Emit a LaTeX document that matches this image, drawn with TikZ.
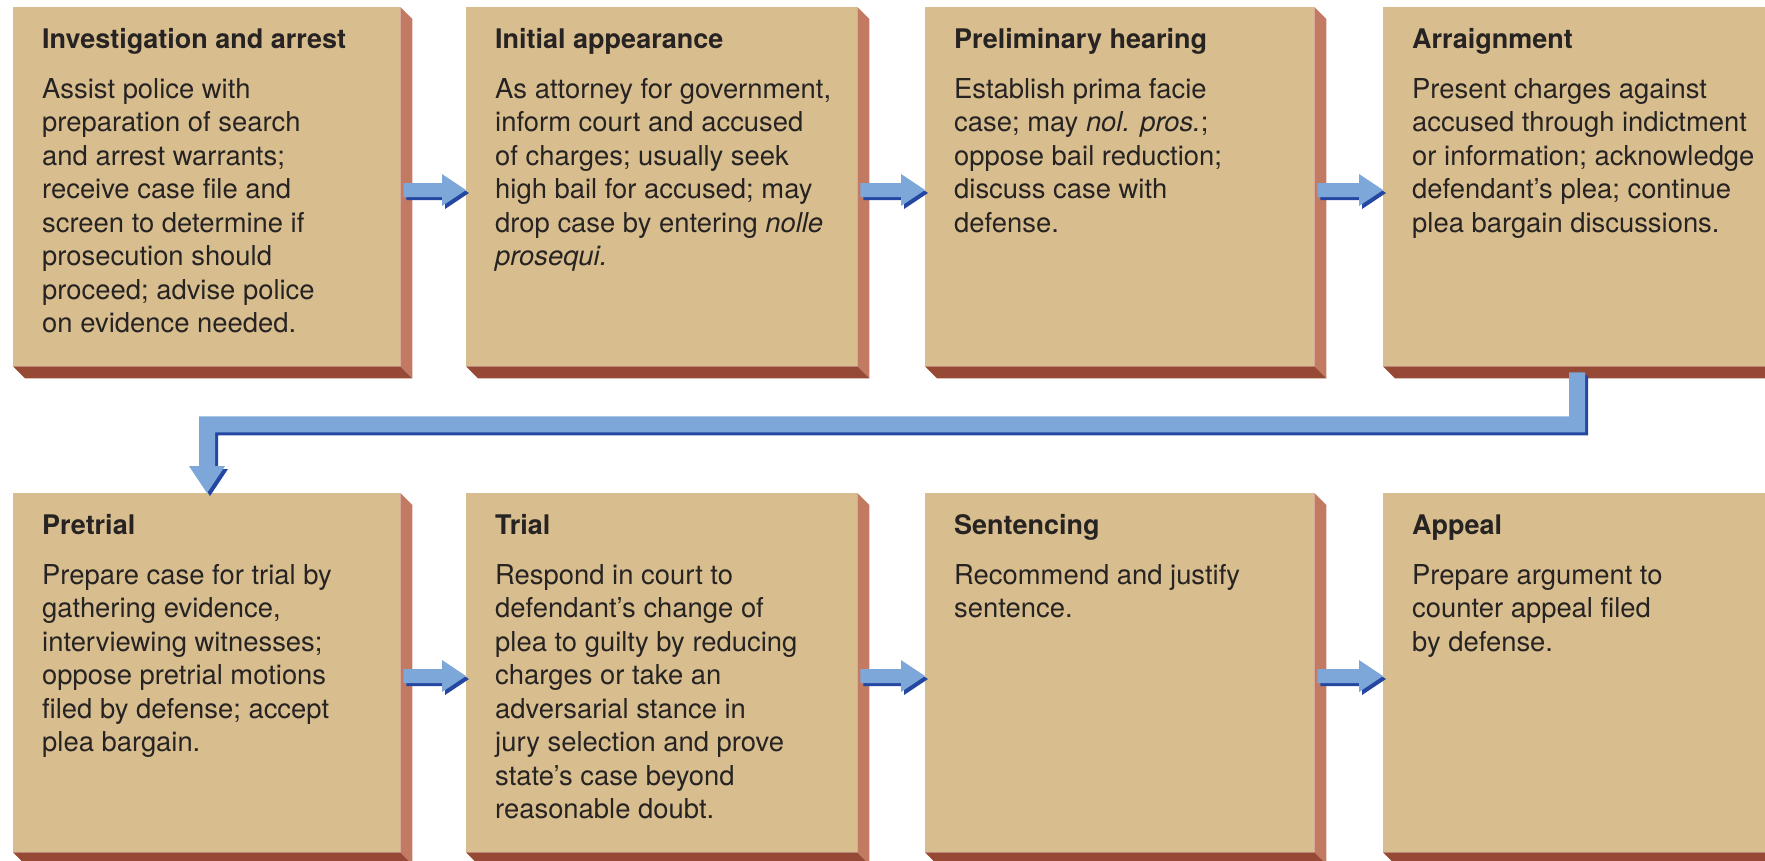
\documentclass[tikz,border=0pt]{standalone}
\usepackage{fontspec}
\setmainfont{TeX Gyre Heros}
\usetikzlibrary{calc}

\definecolor{boxface}{HTML}{D8BE8F}
\definecolor{boxside}{HTML}{C27B62}
\definecolor{boxbottom}{HTML}{964A36}
\definecolor{arrowlight}{HTML}{7CA7D8}
\definecolor{arrowdark}{HTML}{2447A2}
\definecolor{ink}{HTML}{262322}

\tikzset{
  stagebox/.style={rectangle, fill=boxface, draw=none, inner sep=0pt,
    anchor=north west, minimum height=359pt},
  stagetitle/.style={anchor=base west, inner sep=0pt, text=ink,
    font=\fontsize{27}{34}\selectfont\bfseries},
  stagetext/.style={anchor=north west, inner sep=0pt, align=left, text=ink,
    font=\fontsize{27.4}{33.5}\selectfont},
}

% fixed height for the first line of a description
\newcommand\firstline{\rule{0pt}{22pt}}

% side and bottom faces of an extruded stage box
\newcommand\extrude[1]{%
  \fill[boxside] (#1.north east) -- ++(12,12) -- ($(#1.south east)+(12,12)$)
    -- (#1.south east) -- cycle;
  \fill[boxbottom] (#1.south west) -- ++(12,12) -- ($(#1.south east)+(12,12)$)
    -- (#1.south east) -- cycle;
}

% one arrow outline, shifted by (#2,#3)
\newcommand\arrowfill[3]{%
  \fill[#1] ($(ta)+(#2,#3-7)$) -- ($(hb)+(#2,#3-7)$) -- ($(hb)+(#2,#3-16)$)
    -- ($(tp)+(#2,#3)$) -- ($(hb)+(#2,#3+16)$) -- ($(hb)+(#2,#3+7)$)
    -- ($(ta)+(#2,#3+7)$) -- cycle;
}

% block arrow with a dark shadow from one box to the next
\newcommand\fatarrow[2]{%
  \coordinate (ta) at ($(#1.north east)+(3,183)$);
  \coordinate (tp) at ($(#2.north west)+(0,183)$);
  \coordinate (hb) at ($(tp)+(-24,0)$);
  \arrowfill{arrowdark}{3}{3}
  \arrowfill{arrowlight}{0}{0}
}

% the long return connector, shifted by (#2,#3)
\newcommand\returnfill[3]{%
  \fill[#1] ($(c0)+(#2-8,#3)$) -- ($(c0)+(#2+8,#3)$) -- ($(cy)+(#2+8,#3+8)$)
    -- ($(cl)+(#2+8,#3+8)$) -- ($(ch)+(#2+8,#3)$) -- ($(ch)+(#2+18,#3)$)
    -- ($(ct)+(#2,#3)$) -- ($(ch)+(#2-18,#3)$) -- ($(ch)+(#2-8,#3)$)
    -- ($(cl)+(#2-8,#3-8)$) -- ($(cy)+(#2-8,#3-8)$) -- cycle;
}

\begin{document}
\begin{tikzpicture}[x=1pt, y=-1pt]
\useasboundingbox (0,0) rectangle (1765,860);
\clip (0,0) rectangle (1765,860);

% stage boxes
\node[stagebox, minimum width=387pt] (b1) at (13,7) {};
\node[stagebox, minimum width=391pt] (b2) at (466,7) {};
\node[stagebox, minimum width=389pt] (b3) at (925,7) {};
\node[stagebox, minimum width=390pt] (b4) at (1383,7) {};
\node[stagebox, minimum width=387pt] (b5) at (13,493) {};
\node[stagebox, minimum width=391pt] (b6) at (466,493) {};
\node[stagebox, minimum width=389pt] (b7) at (925,493) {};
\node[stagebox, minimum width=390pt] (b8) at (1383,493) {};

\foreach \b in {b1,b2,b3,b4,b5,b6,b7,b8} {\extrude{\b}}

% titles and descriptions
\node[stagetitle] (t1) at ($(b1.north west)+(29,41)$) {Investigation and arrest};
\node[stagetext] (d1) at ($(b1.north west)+(29,69)$) {\firstline Assist police with\\
preparation of search\\ and arrest warrants;\\ receive case file and\\
screen to determine if\\ prosecution should\\ proceed; advise police\\
on evidence needed.};

\node[stagetitle] (t2) at ($(b2.north west)+(29,41)$) {Initial appearance};
\node[stagetext] (d2) at ($(b2.north west)+(29,69)$) {\firstline As attorney for government,\\
inform court and accused\\ of charges; usually seek\\ high bail for accused; may\\
drop case by entering \textit{nolle}\\ \textit{prosequi.}};

\node[stagetitle] (t3) at ($(b3.north west)+(29,41)$) {Preliminary hearing};
\node[stagetext] (d3) at ($(b3.north west)+(29,69)$) {\firstline Establish prima facie\\
case; may \textit{nol. pros.};\\ oppose bail reduction;\\ discuss case with\\ defense.};

\node[stagetitle] (t4) at ($(b4.north west)+(29,41)$) {Arraignment};
\node[stagetext] (d4) at ($(b4.north west)+(29,69)$) {\firstline Present charges against\\
accused through indictment\\ or information; acknowledge\\
defendant's plea; continue\\ plea bargain discussions.};

\node[stagetitle] (t5) at ($(b5.north west)+(29,41)$) {Pretrial};
\node[stagetext] (d5) at ($(b5.north west)+(29,69)$) {\firstline Prepare case for trial by\\
gathering evidence,\\ interviewing witnesses;\\ oppose pretrial motions\\
filed by defense; accept\\ plea bargain.};

\node[stagetitle] (t6) at ($(b6.north west)+(29,41)$) {Trial};
\node[stagetext] (d6) at ($(b6.north west)+(29,69)$) {\firstline Respond in court to\\
defendant's change of\\ plea to guilty by reducing\\ charges or take an\\
adversarial stance in\\ jury selection and prove\\ state's case beyond\\
reasonable doubt.};

\node[stagetitle] (t7) at ($(b7.north west)+(29,41)$) {Sentencing};
\node[stagetext] (d7) at ($(b7.north west)+(29,69)$) {\firstline Recommend and justify\\ sentence.};

\node[stagetitle] (t8) at ($(b8.north west)+(29,41)$) {Appeal};
\node[stagetext] (d8) at ($(b8.north west)+(29,69)$) {\firstline Prepare argument to\\
counter appeal filed\\ by defense.};

% arrows between neighbouring stages
\fatarrow{b1}{b2}
\fatarrow{b2}{b3}
\fatarrow{b3}{b4}
\fatarrow{b5}{b6}
\fatarrow{b6}{b7}
\fatarrow{b7}{b8}

% return connector from the arraignment down to the pretrial stage
\coordinate (c0) at ($(b4.south west)+(194,6)$);
\coordinate (cy) at ($(c0)+(0,52)$);
\coordinate (ct) at ($(b5.north west)+(194,0)$);
\coordinate (ch) at ($(ct)+(0,-27)$);
\coordinate (cl) at (ct |- cy);
\returnfill{arrowdark}{3}{3}
\returnfill{arrowlight}{0}{0}
\end{tikzpicture}
\end{document}
